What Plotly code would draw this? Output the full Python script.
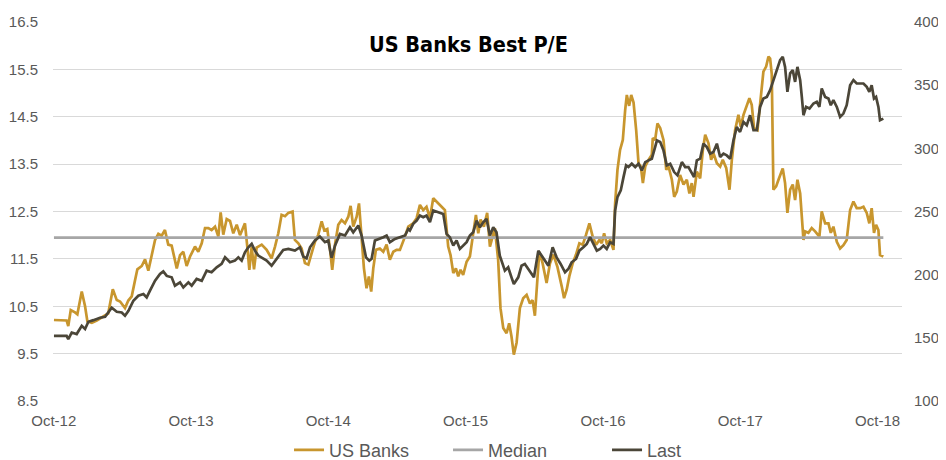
import pandas as pd
import plotly.graph_objects as go

# ---------------- data (decimal years) ----------------
banks_t = [2012.750, 2012.794, 2012.842, 2012.854, 2012.872, 2012.903, 2012.920, 2012.952, 2012.976, 2012.993,
           2013.025, 2013.061, 2013.109, 2013.145, 2013.178, 2013.207, 2013.231, 2013.250, 2013.267, 2013.291,
           2013.316, 2013.340, 2013.357, 2013.389, 2013.413, 2013.437, 2013.462, 2013.486, 2013.510, 2013.534,
           2013.558, 2013.582, 2013.607, 2013.644, 2013.668, 2013.692, 2013.716, 2013.741, 2013.777, 2013.801,
           2013.826, 2013.850, 2013.874, 2013.898, 2013.923, 2013.947, 2013.964, 2013.983, 2014.008, 2014.032,
           2014.056, 2014.081, 2014.105, 2014.124, 2014.141, 2014.158, 2014.173, 2014.190, 2014.207, 2014.226,
           2014.263, 2014.299, 2014.335, 2014.360, 2014.384, 2014.408, 2014.433, 2014.457, 2014.488, 2014.505,
           2014.530, 2014.554, 2014.578, 2014.603, 2014.627, 2014.651, 2014.675, 2014.700, 2014.719, 2014.741,
           2014.760, 2014.777, 2014.797, 2014.821, 2014.845, 2014.870, 2014.894, 2014.911, 2014.930, 2014.955,
           2014.972, 2014.991, 2015.008, 2015.027, 2015.044, 2015.061, 2015.076, 2015.095, 2015.124, 2015.149,
           2015.173, 2015.197, 2015.222, 2015.246, 2015.270, 2015.307, 2015.331, 2015.367, 2015.392, 2015.416,
           2015.440, 2015.464, 2015.489, 2015.513, 2015.537, 2015.574, 2015.598, 2015.622, 2015.639, 2015.659,
           2015.678, 2015.695, 2015.712, 2015.731, 2015.756, 2015.780, 2015.804, 2015.824, 2015.841, 2015.858,
           2015.882, 2015.906, 2015.926, 2015.945, 2015.962, 2015.986, 2016.003, 2016.023, 2016.047, 2016.066,
           2016.083, 2016.100, 2016.120, 2016.144, 2016.168, 2016.193, 2016.217, 2016.236, 2016.253, 2016.285,
           2016.309, 2016.338, 2016.363, 2016.387, 2016.416, 2016.448, 2016.465, 2016.484, 2016.503, 2016.528,
           2016.552, 2016.576, 2016.601, 2016.625, 2016.649, 2016.673, 2016.698, 2016.722, 2016.739, 2016.756,
           2016.775, 2016.800, 2016.824, 2016.836, 2016.853, 2016.872, 2016.892, 2016.909, 2016.921, 2016.938,
           2016.953, 2016.970, 2016.989, 2017.006, 2017.023, 2017.038, 2017.055, 2017.079, 2017.103, 2017.110,
           2017.127, 2017.144, 2017.164, 2017.188, 2017.208, 2017.225, 2017.249, 2017.266, 2017.285, 2017.309,
           2017.334, 2017.358, 2017.377, 2017.394, 2017.407, 2017.431, 2017.455, 2017.475, 2017.492, 2017.516,
           2017.535, 2017.552, 2017.577, 2017.601, 2017.620, 2017.645, 2017.669, 2017.686, 2017.710, 2017.734,
           2017.751, 2017.771, 2017.795, 2017.814, 2017.831, 2017.848, 2017.873, 2017.897, 2017.916, 2017.936,
           2017.953, 2017.965, 2017.977, 2017.989, 2018.009, 2018.026, 2018.057, 2018.074, 2018.091, 2018.111,
           2018.130, 2018.147, 2018.164, 2018.184, 2018.208, 2018.220, 2018.244, 2018.268, 2018.293, 2018.324,
           2018.341, 2018.366, 2018.390, 2018.407, 2018.426, 2018.451, 2018.475, 2018.499, 2018.523, 2018.548,
           2018.572, 2018.596, 2018.621, 2018.645, 2018.669, 2018.688, 2018.705, 2018.722, 2018.737, 2018.754,
           2018.766, 2018.790]
banks_pe = [10.21, 10.20, 10.20, 10.08, 10.42, 10.37, 10.33, 10.81, 10.50, 10.18,
            10.15, 10.20, 10.29, 10.35, 10.86, 10.63, 10.60, 10.52, 10.46, 10.62,
            10.71, 11.05, 11.28, 11.35, 11.49, 11.25, 11.56, 11.90, 12.03, 11.99,
            12.11, 11.80, 11.78, 11.30, 11.58, 11.65, 11.35, 11.55, 11.76, 11.65,
            11.83, 12.15, 12.15, 12.11, 12.18, 11.97, 12.48, 12.01, 12.34, 12.30,
            12.04, 12.22, 12.00, 12.15, 12.25, 11.76, 11.27, 11.76, 11.28, 11.74,
            11.80, 11.69, 11.51, 11.76, 12.04, 12.43, 12.40, 12.47, 12.50, 11.90,
            11.83, 11.72, 11.41, 11.38, 11.62, 11.86, 12.01, 12.29, 12.10, 12.13,
            11.72, 11.27, 11.80, 12.22, 12.32, 12.25, 12.39, 12.62, 12.18, 12.39,
            12.67, 11.83, 11.30, 10.88, 11.13, 10.81, 11.30, 11.69, 11.72, 11.65,
            11.80, 11.48, 11.65, 11.69, 11.69, 11.97, 12.18, 12.25, 12.36, 12.64,
            12.53, 12.60, 12.36, 12.78, 12.71, 12.60, 12.53, 11.76, 11.58, 11.20,
            11.30, 11.13, 11.27, 11.16, 11.44, 11.55, 12.04, 12.43, 12.04, 12.33,
            12.18, 12.47, 11.76, 11.97, 12.15, 11.48, 10.46, 10.04, 9.93, 10.14,
            9.86, 9.48, 9.73, 10.46, 10.67, 10.74, 10.56, 10.63, 10.30, 11.65,
            11.41, 10.99, 11.41, 11.59, 11.34, 10.92, 10.67, 10.85, 11.13, 11.41,
            11.59, 11.83, 11.80, 12.01, 12.25, 11.97, 11.80, 11.90, 11.83, 12.04,
            11.83, 11.90, 11.69, 12.67, 13.38, 13.80, 14.01, 14.64, 14.96, 14.73,
            14.96, 14.80, 14.22, 13.52, 13.45, 13.10, 13.45, 13.59, 13.70, 14.05,
            14.01, 14.36, 14.26, 14.01, 13.38, 13.45, 13.17, 12.81, 12.92, 13.27,
            13.07, 13.17, 12.88, 13.10, 12.81, 13.34, 13.20, 13.80, 14.12, 13.94,
            13.59, 13.73, 13.52, 13.45, 13.59, 13.42, 12.96, 13.59, 14.22, 14.54,
            14.29, 14.54, 14.75, 14.89, 14.75, 14.26, 14.22, 14.99, 15.45, 15.56,
            15.77, 15.73, 15.40, 12.96, 13.03, 13.17, 13.41, 13.10, 12.47, 12.96,
            13.07, 12.74, 13.17, 12.88, 11.90, 12.08, 12.05, 12.15, 12.08, 11.97,
            12.50, 12.25, 12.25, 12.05, 12.18, 11.86, 11.72, 11.79, 11.90, 12.53,
            12.71, 12.57, 12.57, 12.60, 12.47, 12.25, 12.57, 12.05, 12.22, 12.11,
            11.58, 11.55]

last_t = [2012.750, 2012.842, 2012.854, 2012.879, 2012.915, 2012.952, 2012.976, 2013.000, 2013.037, 2013.085,
          2013.122, 2013.146, 2013.170, 2013.207, 2013.243, 2013.267, 2013.292, 2013.328, 2013.364, 2013.401,
          2013.425, 2013.449, 2013.486, 2013.522, 2013.546, 2013.571, 2013.607, 2013.631, 2013.668, 2013.692,
          2013.729, 2013.753, 2013.789, 2013.826, 2013.862, 2013.898, 2013.935, 2013.971, 2013.996, 2014.032,
          2014.068, 2014.093, 2014.117, 2014.141, 2014.166, 2014.190, 2014.214, 2014.238, 2014.263, 2014.299,
          2014.335, 2014.360, 2014.384, 2014.420, 2014.457, 2014.505, 2014.542, 2014.566, 2014.590, 2014.615,
          2014.651, 2014.687, 2014.724, 2014.748, 2014.772, 2014.797, 2014.833, 2014.870, 2014.906, 2014.930,
          2014.967, 2014.991, 2015.023, 2015.047, 2015.064, 2015.088, 2015.124, 2015.149, 2015.173, 2015.197,
          2015.234, 2015.270, 2015.307, 2015.331, 2015.343, 2015.367, 2015.392, 2015.416, 2015.440, 2015.464,
          2015.489, 2015.513, 2015.549, 2015.586, 2015.610, 2015.634, 2015.659, 2015.683, 2015.707, 2015.731,
          2015.756, 2015.780, 2015.804, 2015.829, 2015.853, 2015.877, 2015.901, 2015.926, 2015.950, 2015.974,
          2015.998, 2016.035, 2016.059, 2016.083, 2016.100, 2016.132, 2016.156, 2016.180, 2016.205, 2016.229,
          2016.246, 2016.278, 2016.302, 2016.326, 2016.351, 2016.382, 2016.411, 2016.440, 2016.472, 2016.496,
          2016.520, 2016.552, 2016.576, 2016.605, 2016.630, 2016.654, 2016.678, 2016.703, 2016.727, 2016.751,
          2016.775, 2016.800, 2016.824, 2016.836, 2016.853, 2016.877, 2016.897, 2016.916, 2016.933, 2016.957,
          2016.982, 2017.006, 2017.030, 2017.055, 2017.079, 2017.103, 2017.127, 2017.140, 2017.164, 2017.188,
          2017.212, 2017.237, 2017.266, 2017.290, 2017.322, 2017.346, 2017.370, 2017.394, 2017.411, 2017.431,
          2017.455, 2017.479, 2017.504, 2017.528, 2017.552, 2017.577, 2017.601, 2017.625, 2017.649, 2017.674,
          2017.698, 2017.722, 2017.746, 2017.771, 2017.795, 2017.819, 2017.844, 2017.868, 2017.892, 2017.916,
          2017.941, 2017.965, 2017.989, 2018.014, 2018.038, 2018.057, 2018.074, 2018.091, 2018.111, 2018.130,
          2018.147, 2018.164, 2018.184, 2018.196, 2018.208, 2018.227, 2018.252, 2018.281, 2018.305, 2018.324,
          2018.341, 2018.366, 2018.390, 2018.407, 2018.426, 2018.451, 2018.475, 2018.499, 2018.523, 2018.548,
          2018.572, 2018.596, 2018.621, 2018.645, 2018.669, 2018.688, 2018.705, 2018.722, 2018.737, 2018.754,
          2018.766, 2018.790]
last_px = [151.6, 151.6, 149.0, 154.2, 153.0, 159.5, 157.0, 162.7, 164.0, 165.9,
           166.7, 170.6, 173.8, 170.6, 170.1, 167.5, 171.4, 179.4, 183.3, 184.7,
           182.0, 187.3, 195.2, 200.5, 202.6, 199.0, 197.9, 191.3, 193.9, 189.9,
           193.9, 191.3, 196.6, 195.2, 203.2, 201.9, 205.8, 208.5, 213.7, 209.8,
           211.1, 213.7, 211.1, 217.7, 221.7, 224.4, 219.0, 215.1, 213.7, 211.1,
           207.1, 211.1, 214.3, 219.6, 220.4, 219.0, 221.7, 214.3, 213.0, 221.7,
           227.0, 230.2, 225.7, 227.0, 213.3, 223.0, 232.3, 231.0, 237.5, 233.5,
           238.9, 231.0, 213.7, 211.0, 212.5, 227.0, 228.3, 229.7, 231.0, 225.7,
           228.3, 229.7, 231.0, 236.2, 234.9, 240.2, 242.8, 246.8, 245.5, 246.8,
           241.5, 250.8, 249.5, 248.1, 232.3, 229.7, 223.0, 227.0, 220.4, 223.0,
           225.7, 231.0, 233.5, 242.8, 237.5, 241.5, 244.2, 231.0, 237.5, 233.5,
           215.1, 203.2, 205.8, 197.9, 192.6, 197.9, 207.1, 208.5, 204.5, 200.5,
           197.9, 219.0, 215.0, 211.1, 207.1, 221.7, 213.7, 208.5, 201.9, 204.5,
           209.8, 212.4, 219.0, 221.7, 224.4, 229.7, 224.4, 219.0, 220.4, 223.0,
           220.4, 225.7, 224.4, 250.8, 261.4, 266.7, 277.2, 286.5, 285.2, 287.8,
           285.2, 287.8, 282.5, 289.1, 290.5, 291.8, 301.0, 306.3, 305.0, 298.4,
           286.5, 287.8, 281.2, 278.6, 289.1, 285.2, 285.2, 279.9, 277.2, 290.5,
           291.8, 303.7, 301.0, 295.8, 297.1, 303.7, 293.1, 295.8, 294.4, 291.8,
           306.3, 316.9, 313.0, 320.9, 318.3, 326.2, 314.3, 314.3, 332.8, 339.4,
           340.7, 346.0, 354.0, 361.9, 369.8, 372.5, 364.5, 344.7, 359.3, 361.9,
           352.6, 364.5, 354.0, 340.7, 326.2, 332.8, 331.5, 335.5, 336.8, 332.8,
           347.4, 340.7, 339.4, 334.1, 338.1, 332.8, 324.9, 327.5, 334.1, 350.0,
           354.0, 351.3, 351.3, 351.3, 348.7, 344.7, 350.0, 339.4, 340.7, 332.8,
           322.2, 323.5]

median_pe = 11.95

x_tick_start = "2012-10-01"
x_range = [2012.743, 2018.926]
left_range = [8.5, 16.5]
right_range = [100, 400]

title_text = "US Banks Best P/E"
series_names = ["US Banks", "Median", "Last"]

GOLD = "#C8962E"
GREY = "#A6A6A6"
DARK = "#4B4638"
TEXT = "#595959"


def to_date(t):
    y = int(t)
    start = pd.Timestamp(year=y, month=1, day=1)
    n = 366 if (y % 4 == 0 and (y % 100 != 0 or y % 400 == 0)) else 365
    return start + pd.Timedelta(days=(t - y) * n)


banks_x = [to_date(t) for t in banks_t]
last_x = [to_date(t) for t in last_t]

fig = go.Figure()
fig.add_trace(go.Scatter(x=banks_x, y=banks_pe, mode="lines", name=series_names[0],
                         line=dict(color=GOLD, width=2.7)))
fig.add_trace(go.Scatter(x=[banks_x[0], banks_x[-1]], y=[median_pe, median_pe], mode="lines",
                         name=series_names[1], line=dict(color=GREY, width=2.7)))
fig.add_trace(go.Scatter(x=last_x, y=last_px, mode="lines", name=series_names[2], yaxis="y2",
                         line=dict(color=DARK, width=2.7)))

# The page body has an 8px margin, so the figure is sized and placed to match the window.
fig.update_layout(
    width=938, height=460,
    margin=dict(l=45, r=44, t=14, b=67, autoexpand=False),
    paper_bgcolor="white", plot_bgcolor="white",
    font=dict(family="Liberation Sans, Arial, sans-serif", size=15, color=TEXT),
    showlegend=True,
    legend=dict(orientation="h", x=0.278, xanchor="left", y=-0.13, yanchor="middle",
                font=dict(size=18, color=TEXT), traceorder="normal",
                entrywidth=114, entrywidthmode="pixels"),
    xaxis=dict(type="date", range=[to_date(x_range[0]), to_date(x_range[1])],
               tick0=x_tick_start, dtick="M12", tickformat="%b-%y", automargin=False,
               showgrid=False, zeroline=False, showline=False, ticks="", ticklabelstandoff=9),
    yaxis=dict(range=left_range, dtick=1, tick0=8.5, tickformat=".1f", automargin=False,
               showgrid=True, gridcolor="#D9D9D9", gridwidth=1.3, zeroline=False,
               showline=False, ticks="", ticklabelstandoff=14),
    yaxis2=dict(range=right_range, dtick=50, overlaying="y", side="right", automargin=False,
                showgrid=False, zeroline=False, showline=False, ticks="", ticklabelstandoff=11),
    annotations=[dict(text="<b>" + title_text + "</b>", xref="paper", yref="paper",
                      x=0.489, y=0.94, xanchor="center", yanchor="middle", showarrow=False,
                      font=dict(family="DejaVu Sans Condensed, Arial Narrow, sans-serif",
                                size=21.5, color="#000000"))],
)

fig.write_html("out.html")
